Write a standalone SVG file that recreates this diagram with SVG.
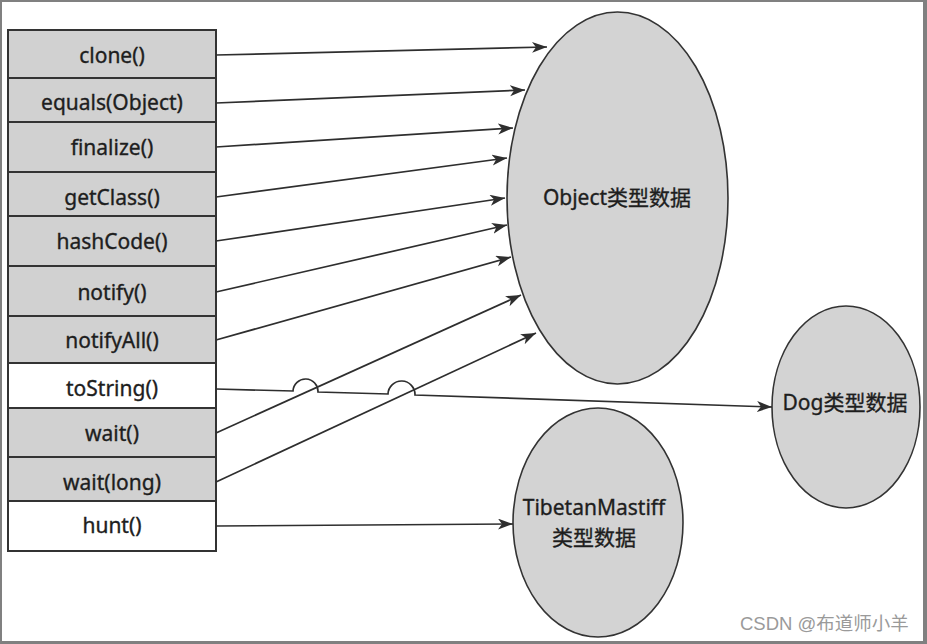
<svg xmlns="http://www.w3.org/2000/svg" width="927" height="644" viewBox="0 0 927 644">
<defs>
<style>
.cell{stroke:#333;stroke-width:2}
.g{fill:#d1d1d1}
.w{fill:#fff}
.lbl{font-family:"Noto Sans","Noto Sans CJK SC",sans-serif;font-size:21px;fill:#1e1e1e;stroke:#1e1e1e;stroke-width:0.35;text-anchor:middle;dominant-baseline:central}
.oval{fill:#d3d3d3;stroke:#333;stroke-width:1.6}
.edge{fill:none;stroke:#2e2e2e;stroke-width:1.7}
.wm{font-family:"Liberation Sans","Noto Sans CJK SC",sans-serif;font-size:18.5px;fill:#9a9a9a}
</style>
<marker id="ah" markerUnits="userSpaceOnUse" markerWidth="17" markerHeight="13" refX="15" refY="5.5" orient="auto">
<path d="M0,0 L15,5.5 L0,11 L4,5.5 z" fill="#2e2e2e"/>
</marker>
</defs>
<rect x="0" y="0" width="927" height="644" fill="#808080"/>
<rect x="2" y="2" width="921" height="639" fill="#fff"/>

<g id="table">
<g id="m-clone"><rect class="cell g" x="8" y="30" width="208" height="48"/><text class="lbl" x="112" y="55">clone()</text></g>
<g id="m-equals"><rect class="cell g" x="8" y="78" width="208" height="44"/><text class="lbl" x="112" y="102">equals(Object)</text></g>
<g id="m-finalize"><rect class="cell g" x="8" y="122" width="208" height="50"/><text class="lbl" x="112" y="147">finalize()</text></g>
<g id="m-getClass"><rect class="cell g" x="8" y="172" width="208" height="44"/><text class="lbl" x="112" y="197">getClass()</text></g>
<g id="m-hashCode"><rect class="cell g" x="8" y="216" width="208" height="50"/><text class="lbl" x="112" y="241">hashCode()</text></g>
<g id="m-notify"><rect class="cell g" x="8" y="266" width="208" height="50"/><text class="lbl" x="112" y="292">notify()</text></g>
<g id="m-notifyAll"><rect class="cell g" x="8" y="316" width="208" height="47"/><text class="lbl" x="112" y="340">notifyAll()</text></g>
<g id="m-toString"><rect class="cell w" x="8" y="363" width="208" height="45"/><text class="lbl" x="112" y="388">toString()</text></g>
<g id="m-wait"><rect class="cell g" x="8" y="408" width="208" height="49"/><text class="lbl" x="112" y="433">wait()</text></g>
<g id="m-waitlong"><rect class="cell g" x="8" y="457" width="208" height="44"/><text class="lbl" x="112" y="482">wait(long)</text></g>
<g id="m-hunt"><rect class="cell w" x="8" y="501" width="208" height="50"/><text class="lbl" x="112" y="525">hunt()</text></g>
</g>

<g id="object">
<ellipse class="oval" cx="617.5" cy="198" rx="110.5" ry="186"/>
<text class="lbl" x="617" y="197">Object类型数据</text>
</g>
<g id="dog">
<ellipse class="oval" cx="846" cy="407" rx="74" ry="101"/>
<text class="lbl" x="845" y="402">Dog类型数据</text>
</g>
<g id="tibetan">
<ellipse class="oval" cx="598" cy="522.5" rx="85" ry="114.5"/>
<text class="lbl" x="594" y="507">TibetanMastiff</text>
<text class="lbl" x="594" y="537">类型数据</text>
</g>

<g id="connectors">
<path class="edge" marker-end="url(#ah)" d="M216,55 L547,47"/>
<path class="edge" marker-end="url(#ah)" d="M216,103 L525,90"/>
<path class="edge" marker-end="url(#ah)" d="M216,147 L513,128"/>
<path class="edge" marker-end="url(#ah)" d="M216,197 L507,158"/>
<path class="edge" marker-end="url(#ah)" d="M216,241 L505,198"/>
<path class="edge" marker-end="url(#ah)" d="M216,292 L507,225"/>
<path class="edge" marker-end="url(#ah)" d="M216,340 L511,257"/>
<path class="edge" marker-end="url(#ah)" d="M216,433 L521,295"/>
<path class="edge" marker-end="url(#ah)" d="M216,482 L536,333"/>
<path class="edge" marker-end="url(#ah)" d="M216,389 L293,391 A12.5,12.5 0 0 1 318,392 L388,394 A13.5,13.5 0 0 1 415,395 L772,407"/>
<path class="edge" marker-end="url(#ah)" d="M216,526 L513,524"/>
</g>

<text class="wm" x="740" y="630">CSDN @布道师小羊</text>
</svg>
